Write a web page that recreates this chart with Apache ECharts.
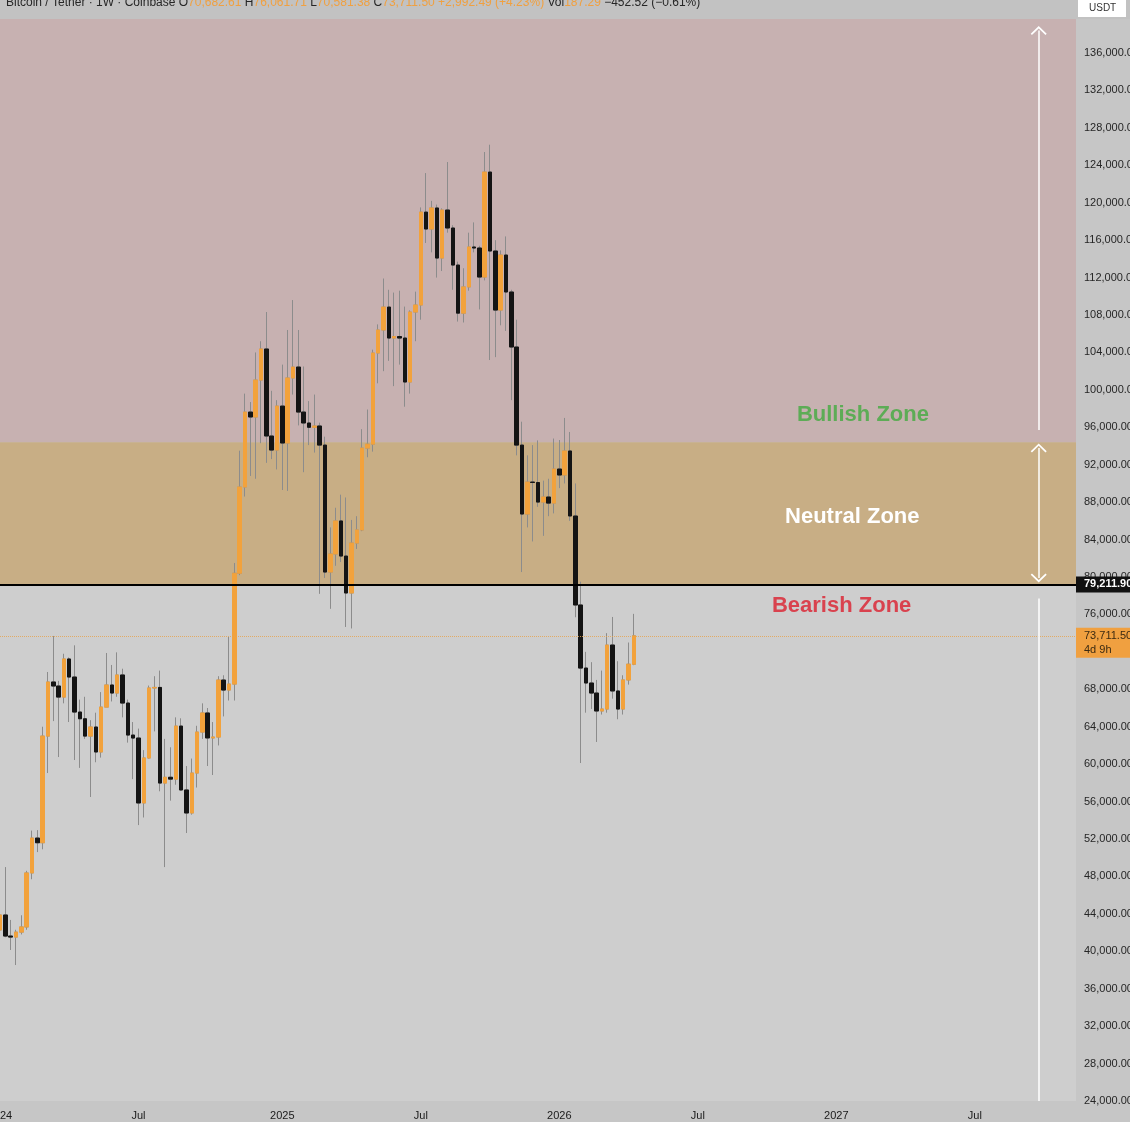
<!DOCTYPE html>
<html><head><meta charset="utf-8">
<script src="https://cdn.jsdelivr.net/npm/echarts@6/dist/echarts.min.js"></script>
<style>html,body{margin:0;padding:0;background:#c6c6c6;overflow:hidden}#c{width:1130px;height:1122px}</style>
</head><body><div id="c"></div>
<script>
// Weekly BTC/USDT candles, week 0 = 2024-01-01
const openP = [42280,43880,41630,41520,42050,42600,48370,52100,51600,63000,68780,68350,67170,71240,69310,65570,64850,63000,63970,61300,66100,68460,67600,69530,66530,63110,62790,55850,60660,68140,68200,57980,58600,58400,64070,57240,54780,59050,63430,65470,62800,62900,68990,67920,68560,80400,89620,97630,97100,101050,104370,95070,93570,98270,94320,101270,102440,97630,96460,96000,96140,94100,80530,82460,85990,82240,78290,83630,85030,93780,94200,103940,106400,108850,105540,105700,105540,100840,108320,109070,119000,117190,119440,114090,119220,117300,113340,108200,111000,115270,115160,112060,123280,114840,108530,114410,110460,104580,94100,86730,90150,90100,88010,88550,87900,91540,90900,93470,86520,77010,70270,68670,67600,65680,65890,72730,67820,65890,69000,70682];
const closeP = [43880,41630,41520,42050,42600,48370,52100,51600,63000,68780,68350,67170,71240,69310,65570,64850,63000,63970,61300,66100,68460,67600,69530,66530,63110,62790,55850,60660,68140,68200,57980,58600,58400,64070,57240,54780,59050,63430,65470,62800,62900,68990,67920,68560,80400,89620,97630,97100,101050,104370,95070,93570,98270,94320,101270,102440,97630,96460,96000,96140,94100,80530,82460,85990,82240,78290,83630,85030,93780,94200,103940,106400,108850,105540,105700,105540,100840,108320,109070,119000,117190,119440,114090,119220,117300,113340,108200,111000,115270,115160,112060,123280,114840,108530,114410,110460,104580,94100,86730,90150,90100,88010,88550,87900,91540,90900,93470,86520,77010,70270,68670,67600,65680,65890,72730,67820,65890,69000,70682,73711.5];
const lowP = [40750,41500,40140,38530,41800,42300,47700,50600,50900,59050,64600,60760,66500,64500,60440,59600,62700,56490,60200,60700,66100,66700,67200,65000,62300,58400,53490,54300,60600,63500,57100,49000,56100,57800,57200,52640,54600,57500,62700,59800,58840,62000,65100,66800,66800,80200,88600,90800,90500,94300,92200,92600,91500,89300,89200,99500,96200,91200,94100,93300,78200,79900,76600,81200,81600,74660,74500,83000,84900,92800,93400,100700,102000,103100,100400,102700,98200,99600,105200,107500,115700,114700,112000,112700,116800,110700,107300,107200,110600,114700,108600,111700,103190,103500,106900,106300,98900,93000,80530,85300,83800,87500,84400,86500,86800,89500,90000,86000,75700,60120,65500,65900,62370,65300,65500,67000,64800,65300,68500,70581.38];
const highP = [45900,49000,43350,42300,43850,48600,52900,52950,64000,69850,73700,68900,71800,71400,72700,66900,67200,64700,65500,67700,71880,70600,71950,70200,66900,64500,63800,61500,68400,69400,70000,62700,61800,65000,64900,59800,60600,64100,66500,66000,64500,69400,69500,73600,81500,93500,99600,98700,104000,105200,108320,99900,98900,102700,106400,109600,106400,102500,98800,99500,96500,95000,85300,87400,88800,88500,86100,86500,95800,97900,104300,107000,111900,110700,110400,110600,108900,108500,110500,119500,123170,120200,119800,119400,124350,117600,113700,113000,116800,117900,115400,125420,126200,116000,114900,116400,110700,107500,96600,93000,94100,94600,90300,90500,94800,94640,97000,95500,90000,79500,72000,70900,69000,70000,74000,75730,71000,69500,73000,76061.71];
// Zones and levels
const zoneBullish = [94400, 140000];
const zoneNeutral = [79211.9, 94400];
const zoneBearish = [24000, 79211.9];
const supportLevel = 79211.9;
const lastPrice = 73711.5;
const arrowUp = [95700, 138400];
const arrowBoth = [79900, 93800];
const arrowDown = [24000, 77700];
const yTicks = {min: 24000, max: 140000, step: 4000};

const totalWeeks = 203;
const weeks = [];
const t0 = Date.UTC(2024, 0, 1);
for (let i = 0; i < totalWeeks; i++) weeks.push(new Date(t0 + i * 7 * 864e5).toISOString().slice(0, 10));
const tickLabel = {};
for (let i = 0; i < totalWeeks; i++) {
  const m = +weeks[i].slice(5, 7), y = weeks[i].slice(0, 4);
  const pm = i > 0 ? +weeks[i - 1].slice(5, 7) : -1;
  if (m !== pm && (m === 1 || m === 7)) tickLabel[i] = m === 1 ? y : 'Jul';
}

const wickData = openP.map((o, i) => [o, closeP[i], lowP[i], highP[i]]);
const bodyData = openP.map((o, i) => [o, closeP[i], Math.min(o, closeP[i]), Math.max(o, closeP[i])]);

const UP = '#f2a23c', DOWN = '#141414', WICK = '#8c8c8c';
const chev = 'path://M0,9 L9,0 L18,9 L16.6,10.4 L9,2.8 L1.4,10.4 Z';
const AX = 195;

const chart = echarts.init(document.getElementById('c'), null, {renderer: 'canvas'});
chart.setOption({
  animation: false,
  backgroundColor: '#c6c6c6',
  grid: {left: 0, right: 54, top: 15.6, bottom: 21, containLabel: false, outerBoundsMode: 'none'},
  xAxis: {
    type: 'category', data: weeks, boundaryGap: false,
    axisLine: {show: false}, axisTick: {show: false}, splitLine: {show: false},
    axisLabel: {
      interval: (idx) => tickLabel[idx] !== undefined,
      formatter: (v, idx) => tickLabel[idx] || '',
      color: '#1a1a1a', fontSize: 11, fontFamily: 'Liberation Sans', margin: 9, hideOverlap: false
    }
  },
  yAxis: {
    type: 'value', position: 'right', min: yTicks.min, max: yTicks.max, interval: yTicks.step,
    axisLine: {show: false}, axisTick: {show: false}, splitLine: {show: false},
    axisLabel: {
      showMaxLabel: false, color: '#262626', fontSize: 11, fontFamily: 'Liberation Sans', margin: 8,
      formatter: (v) => v.toLocaleString('en-US', {minimumFractionDigits: 2, maximumFractionDigits: 2})
    }
  },
  series: [
    {
      type: 'line', data: [], z: 1, silent: true,
      markArea: {
        silent: true,
        data: [
          [{yAxis: zoneBullish[0], itemStyle: {color: '#c7b1b1'}}, {yAxis: zoneBullish[1]}],
          [{yAxis: zoneNeutral[0], itemStyle: {color: '#c8ae85'}}, {yAxis: zoneNeutral[1]}],
          [{yAxis: zoneBearish[0], itemStyle: {color: '#cecece'}}, {yAxis: zoneBearish[1]}]
        ]
      }
    },
    {
      type: 'candlestick', data: wickData, z: 2, barWidth: 4, silent: true,
      itemStyle: {color: WICK, color0: WICK, borderColor: WICK, borderColor0: WICK, borderWidth: 1}
    },
    {
      type: 'candlestick', data: bodyData, z: 3, barWidth: 4, silent: true,
      itemStyle: {color: UP, color0: DOWN, borderColor: UP, borderColor0: DOWN, borderWidth: 1}
    },
    {
      type: 'line', data: [], z: 4, silent: true,
      markLine: {
        silent: true, symbol: 'none', label: {show: false},
        data: [
          {yAxis: supportLevel, lineStyle: {color: '#000', width: 2, type: 'solid'}},
          {yAxis: lastPrice, lineStyle: {color: '#e9a24a', width: 1, type: 'dotted', opacity: 0.8}},
          [{coord: [AX, arrowUp[0]], symbol: 'none'}, {coord: [AX, arrowUp[1]], symbol: chev, symbolSize: [16, 9]}],
          [{coord: [AX, arrowBoth[0]], symbol: chev, symbolSize: [16, 9]}, {coord: [AX, arrowBoth[1]], symbol: chev, symbolSize: [16, 9]}],
          [{coord: [AX, arrowDown[0]], symbol: 'none'}, {coord: [AX, arrowDown[1]], symbol: 'none'}]
        ].map(d => {
          if (Array.isArray(d)) return d.map((p, k) => k === 0 ? Object.assign(p, {lineStyle: {color: '#ffffff', width: 1.5, type: 'solid'}}) : p);
          return d;
        })
      }
    }
  ]
});

function px(idx, val) { return chart.convertToPixel({gridIndex: 0}, [idx, val]); }
const ySup = chart.convertToPixel({yAxisIndex: 0}, supportLevel);
const yLast = chart.convertToPixel({yAxisIndex: 0}, lastPrice);
const pBull = px(162.3, 97300), pNeu = px(160.1, 86400), pBear = px(158.2, 76900);
const O = '#f0a040', D = '#262626';
chart.setOption({
  graphic: [
    {type: 'text', x: pBull[0], y: pBull[1], z: 50, style: {text: 'Bullish Zone', fill: '#5dac56', font: 'bold 22px "Liberation Sans"', textAlign: 'center', textVerticalAlign: 'middle'}},
    {type: 'text', x: pNeu[0], y: pNeu[1], z: 50, style: {text: 'Neutral Zone', fill: '#ffffff', font: 'bold 22px "Liberation Sans"', textAlign: 'center', textVerticalAlign: 'middle'}},
    {type: 'text', x: pBear[0], y: pBear[1], z: 50, style: {text: 'Bearish Zone', fill: '#d9424e', font: 'bold 22px "Liberation Sans"', textAlign: 'center', textVerticalAlign: 'middle'}},
    {type: 'rect', shape: {x: 0, y: 0, width: 1130, height: 19}, z: 60, style: {fill: '#c2c2c2'}},
    {type: 'text', x: 6, y: 3, z: 61, style: {
      text: '{a|Bitcoin / Tether · 1W · Coinbase O}{o|70,682.61}{a| H}{o|76,061.71}{a| L}{o|70,581.38}{a| C}{o|73,711.50}{o| +2,992.49 (+4.23%)}{a| Vol}{o|187.29}{a| −452.52 (−0.61%)}',
      textVerticalAlign: 'middle', font: '12px "Liberation Sans"',
      rich: {a: {fill: D, font: '12px "Liberation Sans"'}, o: {fill: O, font: '12px "Liberation Sans"'}}
    }},
    {type: 'rect', shape: {x: 1078, y: 0, width: 48, height: 17}, z: 62, style: {fill: '#ffffff'}},
    {type: 'text', x: 1089, y: 8, z: 63, style: {text: 'USDT', fill: '#333', font: '10px "Liberation Sans"', textVerticalAlign: 'middle'}},
    {type: 'rect', shape: {x: 1076, y: ySup - 8, width: 54, height: 16}, z: 62, style: {fill: '#111111'}},
    {type: 'text', x: 1084, y: ySup, z: 63, style: {text: '79,211.90', fill: '#ffffff', font: 'bold 11px "Liberation Sans"', textVerticalAlign: 'middle'}},
    {type: 'rect', shape: {x: 1076, y: yLast - 8, width: 54, height: 30}, z: 62, style: {fill: '#f0a040'}},
    {type: 'text', x: 1084, y: yLast, z: 63, style: {text: '73,711.50', fill: '#3b2a12', font: '11px "Liberation Sans"', textVerticalAlign: 'middle'}},
    {type: 'text', x: 1084, y: yLast + 14, z: 63, style: {text: '4d 9h', fill: '#3b2a12', font: '11px "Liberation Sans"', textVerticalAlign: 'middle'}}
  ]
});
</script></body></html>
